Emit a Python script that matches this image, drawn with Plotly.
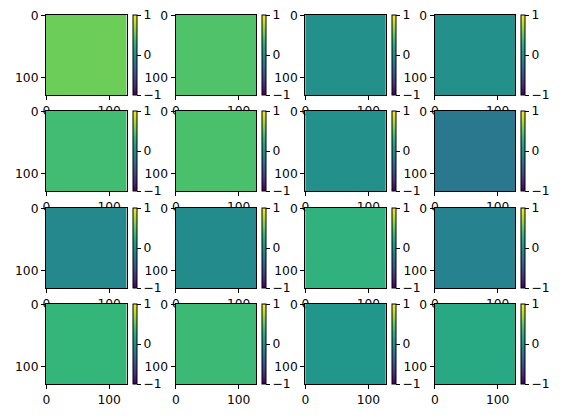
import numpy as np
import plotly.graph_objects as go

# uniform value shown in each 128x128 image, row by row
values = [
    [0.55, 0.44, 0.00, 0.00],
    [0.38, 0.42, 0.00, -0.20],
    [-0.06, -0.04, 0.28, -0.11],
    [0.32, 0.36, 0.05, 0.20],
]
img_size = 128
x_ticks = [0, 100]
y_ticks = [0, 100]
cbar_ticks = [-1, 0, 1]

W, H = 564, 418
col_left = [46, 175.5, 305.2, 434.5]
row_top = [15, 111, 208, 304]
ax_w, ax_h = 80.5, 80
cb_gap, cb_w = 6, 4

font = dict(family="DejaVu Sans", size=12.3, color="black")

fig = go.Figure()
layout = dict(width=W, height=H,
              margin=dict(l=0, r=0, t=0, b=0, autoexpand=False),
              paper_bgcolor="white", plot_bgcolor="white", font=font,
              showlegend=False)

n = 0
for r in range(4):
    for c in range(4):
        n += 1
        sfx = "" if n == 1 else str(n)
        z = np.full((img_size, img_size), values[r][c])
        x0 = col_left[c]
        y_top = row_top[r]
        fig.add_trace(go.Heatmap(
            z=z, x0=0, dx=1, y0=0, dy=1,
            zmin=-1, zmax=1, colorscale="Viridis",
            xaxis="x" + sfx, yaxis="y" + sfx, hoverinfo="skip",
            colorbar=dict(
                x=(x0 + ax_w + cb_gap) / W, xanchor="left", xref="paper",
                y=1 - y_top / H, yanchor="top", yref="paper",
                len=ax_h / H, lenmode="fraction",
                thickness=cb_w, thicknessmode="pixels",
                xpad=0, ypad=0, outlinewidth=1, outlinecolor="black",
                tickvals=cbar_ticks, ticks="outside", ticklen=4,
                tickcolor="black", tickfont=font,
            ),
        ))
        axis_common = dict(showgrid=False, zeroline=False, showline=True,
                           linecolor="black", linewidth=1, mirror=True,
                           ticks="outside", ticklen=4, tickcolor="black",
                           tickfont=font)
        layout["xaxis" + sfx] = dict(
            axis_common, domain=[x0 / W, (x0 + ax_w) / W],
            range=[-0.5, img_size - 0.5], tickvals=x_ticks,
            anchor="y" + sfx)
        layout["yaxis" + sfx] = dict(
            axis_common, domain=[1 - (y_top + ax_h) / H, 1 - y_top / H],
            range=[img_size - 0.5, -0.5], tickvals=y_ticks,
            anchor="x" + sfx)

fig.update_layout(**layout)
# drop the browser's default body margin so the figure sits at the page corner
fig.write_html("out.html", config={"displayModeBar": False},
               post_script="document.body.style.margin='0';")
